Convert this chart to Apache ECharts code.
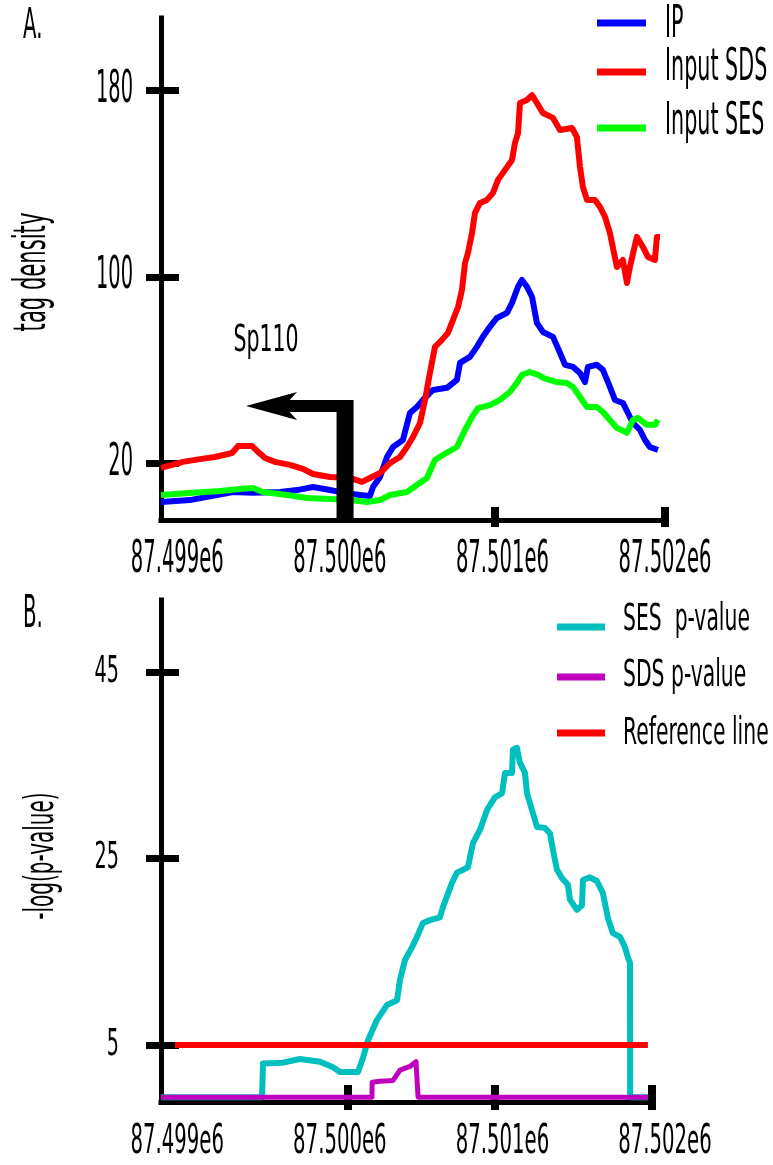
<!DOCTYPE html>
<html>
<head>
<meta charset="utf-8">
<script src="https://cdn.jsdelivr.net/npm/echarts@6/dist/echarts.min.js"></script>
<style>
html,body{margin:0;padding:0;background:#fff;}
#c{width:773px;height:1165px;}
</style>
</head>
<body>
<div id="c"></div>
<script>
// ---------------- data ----------------
const X_MIN = 87498900, X_MAX = 87502000;
const xTickValues = [87499000, 87500000, 87501000, 87502000];
const xTickLabels = ['87.499e6', '87.500e6', '87.501e6', '87.502e6'];
const xTickMarksA = [87500950, 87502000];
const xTickMarksB = [87500080, 87501010, 87502000];
const yTicksA = [20, 100, 180];
const yTickLabelsA = ['20', '100', '180'];
const yTicksB = [5, 25, 45];
const yTickLabelsB = ['5', '25', '45'];
const namesA = ['IP', 'Input SDS', 'Input SES'];
const namesB = ['SES  p-value', 'SDS p-value', 'Reference line'];

// Panel A: tag density
const ipPos = [87498900,87499078,87499244,87499343,87499466,87499632,87499736,87499835,87499939,87500032,87500124,87500185,87500204,87500247,87500290,87500327,87500388,87500431,87500474,87500511,87500573,87500659,87500720,87500739,87500800,87500843,87500880,87500923,87500966,87501028,87501059,87501096,87501120,87501151,87501182,87501212,87501249,87501311,87501354,87501385,87501434,87501477,87501508,87501526,87501581,87501618,87501661,87501692,87501741,87501772,87501803,87501846,87501877,87501907,87501957];
const ipVal = [3.4,4.2,6.4,7.7,7.3,7.7,8.5,9.8,8.5,7.3,6.4,6.0,9.8,14.1,22.7,27.0,30.0,41.6,44.2,47.2,51.5,52.4,55.8,63.1,65.7,70.0,74.3,78.6,82.4,84.6,88.9,95.8,98.7,95.8,91.5,80.3,76.4,74.3,67.4,62.3,61.4,58.8,54.9,61.4,62.3,60.1,52.8,47.2,45.9,41.6,37.3,34.3,30.0,27.0,25.7];

const sdsPos = [87498900,87499035,87499140,87499232,87499337,87499374,87499460,87499497,87499540,87499601,87499693,87499773,87499835,87499939,87500062,87500136,87500185,87500247,87500308,87500370,87500413,87500450,87500493,87500524,87500554,87500585,87500628,87500665,87500696,87500727,87500751,87500770,87500788,87500813,87500831,87500862,87500905,87500942,87500973,87501016,87501059,87501077,87501096,87501108,87501151,87501182,87501212,87501249,87501311,87501354,87501428,87501458,87501477,87501495,87501520,87501569,87501600,87501631,87501661,87501704,87501741,87501766,87501784,87501827,87501864,87501895,87501938,87501950,87501969];
const sdsVal = [18.0,20.6,21.8,22.7,24.4,27.4,27.4,24.9,22.3,20.6,19.3,17.6,15.4,14.1,13.7,12.0,13.7,15.8,20.1,22.7,27.0,31.3,37.3,47.2,58.8,70.0,73.0,76.0,81.6,87.1,94.4,106.0,110.3,118.9,127.5,131.8,133.1,136.1,141.7,146.0,150.2,157.5,161.8,174.7,176.0,178.1,174.7,170.4,168.3,163.1,164.0,160.1,147.3,138.7,133.1,133.1,130.1,125.8,118.9,104.3,107.3,97.4,104.3,117.2,112.9,108.6,107.3,117.2,117.2];

const sesPos = [87498900,87499097,87499263,87499386,87499466,87499527,87499675,87499798,87499939,87500062,87500167,87500247,87500308,87500413,87500474,87500536,87500585,87500634,87500720,87500770,87500813,87500850,87500923,87500985,87501046,87501089,87501120,87501169,87501219,87501249,87501335,87501397,87501434,87501477,87501520,87501581,87501618,87501661,87501704,87501766,87501803,87501833,87501889,87501938,87501957];
const sesVal = [6.4,7.3,8.1,9.0,9.4,7.7,6.4,5.1,4.7,4.2,3.4,4.2,6.4,7.7,10.7,13.7,21.4,23.6,27.0,34.3,39.9,43.7,45.0,47.2,50.6,54.5,58.0,59.2,58.0,56.7,54.9,54.5,52.8,48.5,44.2,44.2,42.0,38.6,35.2,33.1,38.6,39.5,36.5,36.5,38.6];

// Sp110 transcription start (gene arrow): [tss, arrow level, arrow tip, bar top]
const sp110Tss = 87500032;
const sp110ArrowTip = 87499423;
const sp110ArrowLevel = 44.6;
const sp110ArrowTop = 47.2;

// Panel B: -log(p-value)
const sesPvalPos = [87498900,87499538,87499544,87499670,87499777,87499904,87499986,87500030,87500144,87500175,87500207,87500264,87500327,87500390,87500409,87500440,87500485,87500516,87500554,87500598,87500661,87500680,87500737,87500769,87500807,87500838,87500870,87500914,87500958,87501009,87501053,87501072,87501116,87501122,87501147,87501166,87501198,87501211,87501248,87501274,87501324,87501356,87501375,87501400,87501432,87501469,87501482,87501526,87501558,87501564,87501608,87501652,87501690,87501722,87501753,87501798,87501829,87501848,87501861,87501862,87501974];
const sesPvalVal = [-0.6,-0.6,3.0,3.1,3.5,3.2,2.6,2.1,2.1,3.6,5.5,7.7,9.3,9.8,12.0,14.1,15.5,16.6,18.1,18.4,18.7,19.8,22.4,23.5,23.8,24.1,26.7,28.1,30.2,31.6,32.0,34.2,34.2,36.7,36.9,35.3,34.2,32.0,29.9,28.4,28.3,27.7,25.9,23.8,22.9,22.2,20.6,19.5,20.0,22.7,23.0,22.6,21.3,18.6,17.0,16.6,15.5,14.4,13.8,-0.6,-0.6];

const sdsPvalPos = [87498900,87500232,87500233,87500283,87500365,87500409,87500472,87500510,87500522,87500523,87501974];
const sdsPvalVal = [-0.6,-0.6,1.0,1.1,1.2,2.3,2.7,3.2,3.2,-0.6,-0.6];

const refPos = [87498988, 87501974];
const refVal = [5, 5];

// ---------------- chart ----------------
const FONT = 'DejaVu Sans';
const Y_A = {min: -4.35, max: 211.2};
const Y_B = {min: -1.12, max: 52.76};

const zip = (xs, ys) => xs.map((x, i) => [x, ys[i]]);
function lineSeries(name, xs, ys, color, width, xi, yi, z) {
  return {
    name, type: 'line', xAxisIndex: xi, yAxisIndex: yi, data: zip(xs, ys),
    showSymbol: false, symbol: 'none', z: z || 2, silent: true,
    lineStyle: {color, width, join: 'round', cap: 'butt'}, itemStyle: {color}
  };
}
function dataX(gi) {
  return {gridIndex: gi, type: 'value', position: 'bottom', min: X_MIN, max: X_MAX,
    axisLine: {show: true, onZero: false, lineStyle: {color: '#000', width: 5, cap: 'square'}},
    axisTick: {show: false}, axisLabel: {show: false}, splitLine: {show: false}};
}
function tickX(gi, vals, off, len) {
  return {gridIndex: gi, type: 'value', position: 'bottom', min: X_MIN, max: X_MAX, offset: off,
    axisLine: {show: false, onZero: false},
    axisTick: {show: true, customValues: vals, length: len, lineStyle: {color: '#000', width: 8}},
    axisLabel: {show: false}, splitLine: {show: false}};
}
function dataY(gi, r) {
  return {gridIndex: gi, type: 'value', position: 'left', min: r.min, max: r.max,
    axisLine: {show: true, onZero: false, lineStyle: {color: '#000', width: 5, cap: 'square'}},
    axisTick: {show: false}, axisLabel: {show: false}, splitLine: {show: false}};
}
function tickY(gi, r, vals) {
  return {gridIndex: gi, type: 'value', position: 'left', min: r.min, max: r.max, offset: -18,
    axisLine: {show: false, onZero: false},
    axisTick: {show: true, customValues: vals, length: 33, lineStyle: {color: '#000', width: 7}},
    axisLabel: {show: false}, splitLine: {show: false}};
}

const colorsA = ['#0000ff', '#ff0000', '#00ff00'];
const colorsB = ['#00bfbf', '#bf00bf', '#ff0000'];

function renderGeneArrow(params, api) {
  const tss = api.value(0), level = api.value(1), tip = api.value(2), top = api.value(3);
  const pBottom = api.coord([tss, Y_A.min]);
  const pTop = api.coord([tss, top]);
  const pLevel = api.coord([tss, level]);
  const pTip = api.coord([tip, level]);
  const headLen = 51, headHalf = 14, notch = 38, barV = 17, barH = 12;
  return {
    type: 'group',
    children: [
      {type: 'rect', shape: {x: pTop[0] - barV / 2, y: pTop[1], width: barV, height: pBottom[1] - pTop[1]}, style: {fill: '#000'}},
      {type: 'rect', shape: {x: pTip[0] + notch - 2, y: pLevel[1] - barH / 2, width: pLevel[0] - pTip[0] - notch + 2, height: barH}, style: {fill: '#000'}},
      {type: 'polygon', shape: {points: [[pTip[0], pTip[1]], [pTip[0] + headLen, pTip[1] - headHalf], [pTip[0] + notch, pTip[1]], [pTip[0] + headLen, pTip[1] + headHalf]]}, style: {fill: '#000'}}
    ]
  };
}

const chart = echarts.init(document.getElementById('c'), null, {renderer: 'canvas'});
chart.setOption({
  animation: false,
  backgroundColor: '#ffffff',
  grid: [
    {left: 161, top: 18, width: 504, height: 502, outerBoundsMode: 'none'},
    {left: 161, top: 600, width: 491, height: 502, outerBoundsMode: 'none'}
  ],
  xAxis: [dataX(0), tickX(0, xTickMarksA, -13, 20), dataX(1), tickX(1, xTickMarksB, -17, 25)],
  yAxis: [dataY(0, Y_A), tickY(0, Y_A, yTicksA), dataY(1, Y_B), tickY(1, Y_B, yTicksB)],
  series: [
    lineSeries(namesA[0], ipPos, ipVal, colorsA[0], 6, 0, 0, 2),
    lineSeries(namesA[1], sdsPos, sdsVal, colorsA[1], 6, 0, 0, 3),
    lineSeries(namesA[2], sesPos, sesVal, colorsA[2], 6, 0, 0, 4),
    {
      name: 'Sp110', type: 'custom', coordinateSystem: 'cartesian2d', xAxisIndex: 0, yAxisIndex: 0,
      z: 6, silent: true, clip: false,
      data: [[sp110Tss, sp110ArrowLevel, sp110ArrowTip, sp110ArrowTop]],
      encode: {x: [0, 2], y: [1, 3]},
      renderItem: renderGeneArrow
    },
    lineSeries(namesB[0], sesPvalPos, sesPvalVal, colorsB[0], 6, 2, 2, 2),
    lineSeries(namesB[1], sdsPvalPos, sdsPvalVal, colorsB[1], 5, 2, 2, 3),
    lineSeries(namesB[2], refPos, refVal, colorsB[2], 6, 2, 2, 4)
  ]
});

// ---------------- text (condensed) ----------------
function txt(text, x, y, size, sx, align, rot) {
  return {type: 'text', x, y, scaleX: sx, rotation: rot || 0, z: 100, silent: true,
    style: {text, fontSize: size, fontFamily: FONT, fill: '#000', align: align || 'center', verticalAlign: 'middle'}};
}
function seg(x1, x2, y, color) {
  return {type: 'line', z: 100, silent: true, shape: {x1, y1: y, x2, y2: y}, style: {stroke: color, lineWidth: 7}};
}
const g = [];
g.push(txt('A.', 23, 27, 42, 0.47, 'left'));
g.push(txt('B.', 23, 616, 44, 0.45, 'left'));
g.push(txt('tag density', 34, 272, 44, 0.48, 'center', Math.PI / 2));
g.push(txt('-log(p-value)', 43, 856, 40, 0.5, 'center', Math.PI / 2));
yTicksA.forEach((v, i) => {
  const py = chart.convertToPixel({yAxisIndex: 0}, v);
  g.push(txt(yTickLabelsA[i], 133, py, 44, 0.44, 'right'));
});
yTicksB.forEach((v, i) => {
  const py = chart.convertToPixel({yAxisIndex: 2}, v);
  g.push(txt(yTickLabelsB[i], 119, py, 37, 0.52, 'right'));
});
// x tick labels: both panels are labelled on panel A's scale, as in the original figure
xTickValues.forEach((v, i) => {
  const px = chart.convertToPixel({xAxisIndex: 0}, v);
  g.push(txt(xTickLabels[i], px, 561, 44, 0.445));
  g.push(txt(xTickLabels[i], px, 1142, 41, 0.48));
});
g.push(txt('Sp110', 266, 341, 38, 0.54));
namesA.forEach((n, i) => {
  g.push(seg(597, 646, [23, 72, 128][i], colorsA[i]));
  g.push(txt(n, 665, [26, 69, 123][i], 44, 0.47, 'left'));
});
namesB.forEach((n, i) => {
  g.push(seg(557, 605, [627, 677, 733][i], colorsB[i]));
  g.push(txt(n, 623, [620, 676, 734][i], 37, 0.55, 'left'));
});
chart.setOption({graphic: {elements: g}});
</script>
</body>
</html>
